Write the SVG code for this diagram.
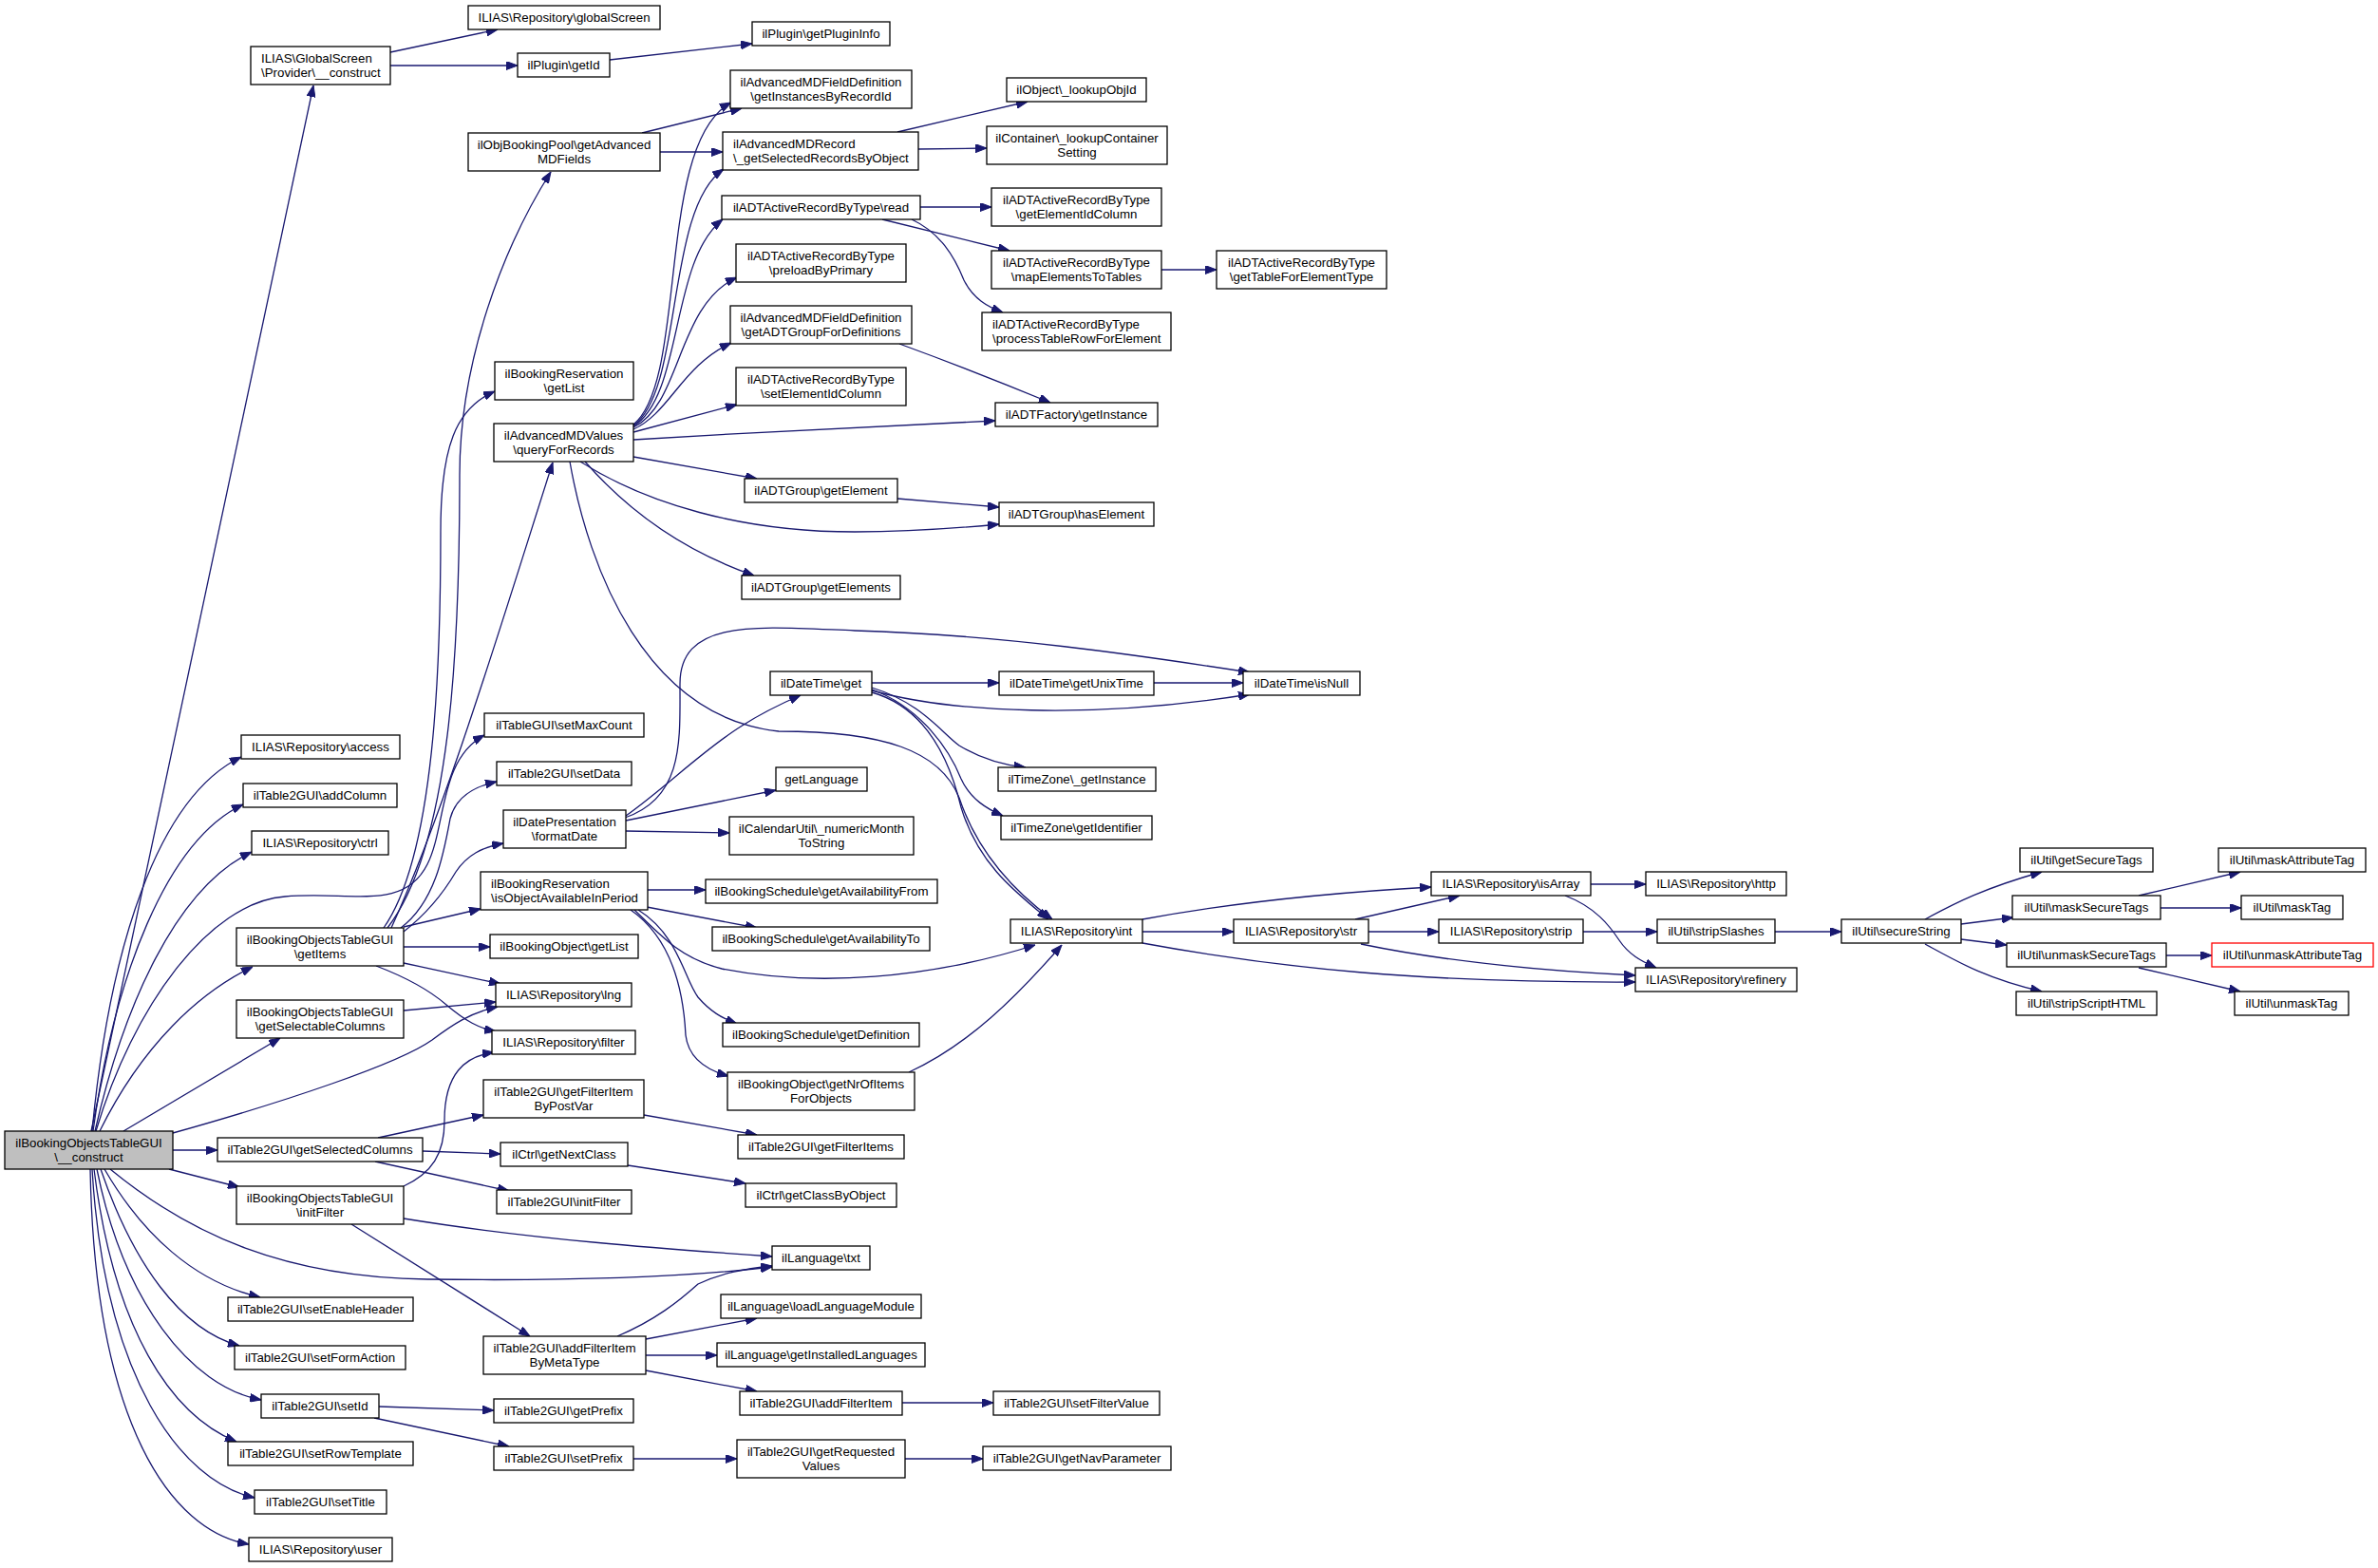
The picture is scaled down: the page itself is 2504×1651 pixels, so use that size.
<svg xmlns="http://www.w3.org/2000/svg" width="2504" height="1651" viewBox="0 0 2504 1651">
<defs>
<style>
.n rect{fill:#ffffff;stroke:#000000;stroke-width:1.3}
.root rect{fill:#bfbfbf}
.red rect{stroke:#ff0000}
text{font-family:"Liberation Sans",Arial,Helvetica,sans-serif;font-size:13.3px;fill:#000000}
.c{text-anchor:middle}
.l{text-anchor:start}
#edges path{fill:none;stroke:#191970;stroke-width:1.3;marker-end:url(#ah)}
</style>
<marker id="ah" viewBox="0 0 12 9" refX="12" refY="4.5" markerWidth="12" markerHeight="9" markerUnits="userSpaceOnUse" orient="auto"><path d="M0,0 L12,4.5 L0,9 z" fill="#191970" stroke="#191970" stroke-width="1"/></marker>
</defs>
<rect x="0" y="0" width="2504" height="1651" fill="#ffffff"/>
<g id="edges">
<path d="M96,1191 L330,90"/>
<path d="M97,1191 C115,1000 165,840 254,797"/>
<path d="M98,1191 C120,1030 175,885 256,847"/>
<path d="M100,1191 C130,1060 185,935 265,897"/>
<path d="M101,1191 C140,1060 220,950 300,944 C370,938 425,960 450,910 C470,870 462,800 510,774"/>
<path d="M105,1191 C150,1100 210,1045 266,1018"/>
<path d="M130,1191 L295,1093"/>
<path d="M182,1193 C300,1160 420,1120 455,1095 C475,1080 495,1066 524,1060"/>
<path d="M182,1211 L229,1211"/>
<path d="M178,1231 L252,1250"/>
<path d="M116,1231 C200,1300 300,1345 450,1347 C600,1349 720,1345 813,1334"/>
<path d="M110,1231 C150,1300 205,1350 274,1366"/>
<path d="M106,1231 C140,1330 190,1400 252,1417"/>
<path d="M102,1231 C130,1370 200,1460 275,1474"/>
<path d="M99,1231 C120,1400 180,1490 249,1518"/>
<path d="M97,1231 C110,1450 190,1560 268,1577"/>
<path d="M95,1231 C100,1500 180,1612 262,1626"/>
<path d="M411,55 L524,31"/>
<path d="M411,69 L545,69"/>
<path d="M642,63 L792,46"/>
<path d="M408,977 C475,890 484,680 484,500 C484,380 530,260 580,181"/>
<path d="M404,977 C458,900 464,700 464,560 C464,470 480,430 521,412"/>
<path d="M412,977 C470,850 530,650 582,487"/>
<path d="M422,977 C458,950 467,900 474,862 C480,838 500,828 523,823"/>
<path d="M425,981 C452,960 470,935 480,918 C492,900 508,892 530,888"/>
<path d="M425,976 L506,957"/>
<path d="M425,997 L516,997"/>
<path d="M425,1014 L527,1036"/>
<path d="M396,1017 C430,1030 455,1045 470,1058 C490,1075 505,1083 522,1086"/>
<path d="M425,1064 L522,1055"/>
<path d="M398,1198 L509,1174"/>
<path d="M445,1212 L527,1215"/>
<path d="M395,1223 L536,1254"/>
<path d="M425,1249 C455,1235 468,1215 468,1180 C468,1130 490,1112 520,1108"/>
<path d="M425,1283 C560,1305 700,1315 813,1323"/>
<path d="M370,1289 L558,1407"/>
<path d="M650,1407 C690,1390 715,1370 735,1352 C760,1340 785,1336 813,1333"/>
<path d="M680,1410 L797,1388"/>
<path d="M680,1427 L755,1427"/>
<path d="M680,1443 L797,1465"/>
<path d="M950,1477 L1046,1477"/>
<path d="M399,1481 L520,1485"/>
<path d="M394,1493 L536,1523"/>
<path d="M667,1536 L776,1536"/>
<path d="M953,1536 L1035,1536"/>
<path d="M678,1174 L797,1195"/>
<path d="M661,1227 L785,1246"/>
<path d="M676,140 L781,114"/>
<path d="M695,160 L761,160"/>
<path d="M667,447 C725,400 690,150 770,108"/>
<path d="M667,448 C720,410 700,220 762,178"/>
<path d="M667,449 C720,415 705,275 761,231"/>
<path d="M667,450 C718,425 712,322 776,292"/>
<path d="M667,452 C705,435 718,385 770,361"/>
<path d="M667,455 L776,426"/>
<path d="M667,463 C800,455 950,447 1048,443"/>
<path d="M667,481 L797,504"/>
<path d="M611,486 C680,530 780,560 900,560 C960,560 1010,556 1052,552"/>
<path d="M616,486 C650,525 705,575 794,606"/>
<path d="M600,486 C620,600 680,755 820,770 C930,770 990,790 1010,840 C1030,900 1070,940 1108,968"/>
<path d="M945,139 L1082,107"/>
<path d="M967,157 L1039,156"/>
<path d="M969,218 L1044,218"/>
<path d="M929,231 L1063,264"/>
<path d="M960,231 C990,245 1005,270 1015,295 C1025,315 1040,323 1056,329"/>
<path d="M1223,284 L1281,284"/>
<path d="M947,362 C1010,385 1060,405 1106,424"/>
<path d="M945,525 L1052,534"/>
<path d="M659,859 C700,830 740,790 780,765 C800,752 820,742 843,732"/>
<path d="M658,861 C720,840 716,780 716,720 C716,650 800,660 900,664 C1050,668 1200,690 1316,708"/>
<path d="M659,864 L817,832"/>
<path d="M659,875 L768,877"/>
<path d="M918,719 L1052,719"/>
<path d="M918,727 C1000,750 1150,758 1316,731"/>
<path d="M918,724 C970,740 990,770 1010,785 C1035,800 1060,806 1080,808"/>
<path d="M918,726 C970,745 1000,790 1012,820 C1022,842 1040,852 1056,859"/>
<path d="M918,729 C975,745 1000,800 1012,850 C1030,910 1070,940 1104,968"/>
<path d="M1215,719 L1309,719"/>
<path d="M682,937 L743,937"/>
<path d="M681,955 L797,977"/>
<path d="M668,958 C700,990 720,1010 760,1020 C860,1040 980,1030 1090,995"/>
<path d="M672,958 C715,985 720,1030 735,1050 C748,1065 760,1072 776,1078"/>
<path d="M664,958 C710,990 720,1050 722,1090 C725,1115 745,1127 767,1133"/>
<path d="M957,1129 C1020,1100 1070,1050 1118,995"/>
<path d="M1203,968 C1300,950 1400,940 1507,934"/>
<path d="M1203,981 L1299,981"/>
<path d="M1203,993 C1350,1020 1500,1035 1722,1034"/>
<path d="M1427,968 L1537,943"/>
<path d="M1441,981 L1515,981"/>
<path d="M1433,994 C1520,1012 1620,1022 1722,1027"/>
<path d="M1675,931 L1733,931"/>
<path d="M1648,943 C1680,955 1695,975 1705,990 C1715,1005 1728,1012 1744,1019"/>
<path d="M1667,981 L1745,981"/>
<path d="M1869,981 L1939,981"/>
<path d="M2027,968 C2060,950 2090,935 2150,918"/>
<path d="M2065,973 L2120,966"/>
<path d="M2065,989 L2113,995"/>
<path d="M2027,994 C2060,1012 2090,1030 2150,1044"/>
<path d="M2252,943 L2359,918"/>
<path d="M2275,956 L2360,956"/>
<path d="M2281,1006 L2329,1006"/>
<path d="M2252,1019 L2359,1044"/>
</g>
<g id="nodes">
<g id="node-root" class="n root"><rect x="5" y="1191" width="177" height="40"/><text class="c" x="93.5" y="1207.5">ilBookingObjectsTableGUI</text><text class="c" x="93.5" y="1222.5">\__construct</text></g>
<g id="node-provider" class="n"><rect x="264" y="49" width="147" height="40"/><text class="l" x="275" y="65.5">ILIAS\GlobalScreen</text><text class="l" x="275" y="80.5">\Provider\__construct</text></g>
<g id="node-access" class="n"><rect x="254" y="774" width="167" height="25"/><text class="c" x="337.5" y="791">ILIAS\Repository\access</text></g>
<g id="node-addColumn" class="n"><rect x="256" y="825" width="162" height="25"/><text class="c" x="337" y="842">ilTable2GUI\addColumn</text></g>
<g id="node-ctrl" class="n"><rect x="265" y="875" width="144" height="25"/><text class="c" x="337" y="892">ILIAS\Repository\ctrl</text></g>
<g id="node-getItems" class="n"><rect x="249" y="977" width="176" height="40"/><text class="c" x="337" y="993.5">ilBookingObjectsTableGUI</text><text class="c" x="337" y="1008.5">\getItems</text></g>
<g id="node-getSelectableColumns" class="n"><rect x="249" y="1053" width="176" height="40"/><text class="c" x="337" y="1069.5">ilBookingObjectsTableGUI</text><text class="c" x="337" y="1084.5">\getSelectableColumns</text></g>
<g id="node-getSelectedColumns" class="n"><rect x="229" y="1198" width="216" height="25"/><text class="c" x="337" y="1215">ilTable2GUI\getSelectedColumns</text></g>
<g id="node-initFilterBooking" class="n"><rect x="249" y="1249" width="176" height="40"/><text class="c" x="337" y="1265.5">ilBookingObjectsTableGUI</text><text class="c" x="337" y="1280.5">\initFilter</text></g>
<g id="node-setEnableHeader" class="n"><rect x="240" y="1366" width="195" height="25"/><text class="c" x="337.5" y="1383">ilTable2GUI\setEnableHeader</text></g>
<g id="node-setFormAction" class="n"><rect x="247" y="1417" width="180" height="25"/><text class="c" x="337" y="1434">ilTable2GUI\setFormAction</text></g>
<g id="node-setId" class="n"><rect x="275" y="1468" width="124" height="25"/><text class="c" x="337" y="1485">ilTable2GUI\setId</text></g>
<g id="node-setRowTemplate" class="n"><rect x="240" y="1518" width="195" height="25"/><text class="c" x="337.5" y="1535">ilTable2GUI\setRowTemplate</text></g>
<g id="node-setTitle" class="n"><rect x="268" y="1569" width="139" height="25"/><text class="c" x="337.5" y="1586">ilTable2GUI\setTitle</text></g>
<g id="node-user" class="n"><rect x="262" y="1619" width="151" height="25"/><text class="c" x="337.5" y="1636">ILIAS\Repository\user</text></g>
<g id="node-globalScreen" class="n"><rect x="493" y="6" width="202" height="25"/><text class="c" x="594" y="23">ILIAS\Repository\globalScreen</text></g>
<g id="node-getId" class="n"><rect x="545" y="56" width="97" height="25"/><text class="c" x="593.5" y="73">ilPlugin\getId</text></g>
<g id="node-getAdvancedMDFields" class="n"><rect x="493" y="140" width="202" height="40"/><text class="c" x="594" y="156.5">ilObjBookingPool\getAdvanced</text><text class="c" x="594" y="171.5">MDFields</text></g>
<g id="node-getListRes" class="n"><rect x="521" y="381" width="146" height="40"/><text class="c" x="594" y="397.5">ilBookingReservation</text><text class="c" x="594" y="412.5">\getList</text></g>
<g id="node-queryForRecords" class="n"><rect x="520" y="446" width="147" height="40"/><text class="c" x="593.5" y="462.5">ilAdvancedMDValues</text><text class="c" x="593.5" y="477.5">\queryForRecords</text></g>
<g id="node-setMaxCount" class="n"><rect x="510" y="751" width="168" height="25"/><text class="c" x="594" y="768">ilTableGUI\setMaxCount</text></g>
<g id="node-setData" class="n"><rect x="523" y="802" width="142" height="25"/><text class="c" x="594" y="819">ilTable2GUI\setData</text></g>
<g id="node-formatDate" class="n"><rect x="530" y="853" width="129" height="40"/><text class="c" x="594.5" y="869.5">ilDatePresentation</text><text class="c" x="594.5" y="884.5">\formatDate</text></g>
<g id="node-isObjectAvailableInPeriod" class="n"><rect x="506" y="918" width="176" height="40"/><text class="l" x="517" y="934.5">ilBookingReservation</text><text class="l" x="517" y="949.5">\isObjectAvailableInPeriod</text></g>
<g id="node-getListObj" class="n"><rect x="516" y="984" width="156" height="25"/><text class="c" x="594" y="1001">ilBookingObject\getList</text></g>
<g id="node-lng" class="n"><rect x="522" y="1035" width="143" height="25"/><text class="c" x="593.5" y="1052">ILIAS\Repository\lng</text></g>
<g id="node-filter" class="n"><rect x="518" y="1085" width="151" height="25"/><text class="c" x="593.5" y="1102">ILIAS\Repository\filter</text></g>
<g id="node-getFilterItemByPostVar" class="n"><rect x="509" y="1137" width="169" height="40"/><text class="c" x="593.5" y="1153.5">ilTable2GUI\getFilterItem</text><text class="c" x="593.5" y="1168.5">ByPostVar</text></g>
<g id="node-getNextClass" class="n"><rect x="527" y="1203" width="134" height="25"/><text class="c" x="594" y="1220">ilCtrl\getNextClass</text></g>
<g id="node-initFilterTable2" class="n"><rect x="523" y="1253" width="142" height="25"/><text class="c" x="594" y="1270">ilTable2GUI\initFilter</text></g>
<g id="node-addFilterItemByMetaType" class="n"><rect x="509" y="1407" width="171" height="40"/><text class="c" x="594.5" y="1423.5">ilTable2GUI\addFilterItem</text><text class="c" x="594.5" y="1438.5">ByMetaType</text></g>
<g id="node-getPrefix" class="n"><rect x="520" y="1473" width="147" height="25"/><text class="c" x="593.5" y="1490">ilTable2GUI\getPrefix</text></g>
<g id="node-setPrefix" class="n"><rect x="520" y="1523" width="147" height="25"/><text class="c" x="593.5" y="1540">ilTable2GUI\setPrefix</text></g>
<g id="node-getPluginInfo" class="n"><rect x="792" y="23" width="145" height="25"/><text class="c" x="864.5" y="40">ilPlugin\getPluginInfo</text></g>
<g id="node-getInstancesByRecordId" class="n"><rect x="769" y="74" width="191" height="40"/><text class="c" x="864.5" y="90.5">ilAdvancedMDFieldDefinition</text><text class="c" x="864.5" y="105.5">\getInstancesByRecordId</text></g>
<g id="node-getSelectedRecordsByObject" class="n"><rect x="761" y="139" width="206" height="40"/><text class="l" x="772" y="155.5">ilAdvancedMDRecord</text><text class="l" x="772" y="170.5">\_getSelectedRecordsByObject</text></g>
<g id="node-read" class="n"><rect x="760" y="206" width="209" height="25"/><text class="c" x="864.5" y="223">ilADTActiveRecordByType\read</text></g>
<g id="node-preloadByPrimary" class="n"><rect x="775" y="257" width="179" height="40"/><text class="c" x="864.5" y="273.5">ilADTActiveRecordByType</text><text class="c" x="864.5" y="288.5">\preloadByPrimary</text></g>
<g id="node-getADTGroupForDefinitions" class="n"><rect x="769" y="322" width="191" height="40"/><text class="c" x="864.5" y="338.5">ilAdvancedMDFieldDefinition</text><text class="c" x="864.5" y="353.5">\getADTGroupForDefinitions</text></g>
<g id="node-setElementIdColumn" class="n"><rect x="775" y="387" width="179" height="40"/><text class="c" x="864.5" y="403.5">ilADTActiveRecordByType</text><text class="c" x="864.5" y="418.5">\setElementIdColumn</text></g>
<g id="node-getElement" class="n"><rect x="784" y="504" width="161" height="25"/><text class="c" x="864.5" y="521">ilADTGroup\getElement</text></g>
<g id="node-getElements" class="n"><rect x="781" y="606" width="167" height="25"/><text class="c" x="864.5" y="623">ilADTGroup\getElements</text></g>
<g id="node-dateTimeGet" class="n"><rect x="811" y="707" width="107" height="25"/><text class="c" x="864.5" y="724">ilDateTime\get</text></g>
<g id="node-getLanguage" class="n"><rect x="817" y="808" width="96" height="25"/><text class="c" x="865" y="825">getLanguage</text></g>
<g id="node-numericMonthToString" class="n"><rect x="768" y="860" width="194" height="40"/><text class="c" x="865" y="876.5">ilCalendarUtil\_numericMonth</text><text class="c" x="865" y="891.5">ToString</text></g>
<g id="node-getAvailabilityFrom" class="n"><rect x="743" y="926" width="244" height="25"/><text class="c" x="865" y="943">ilBookingSchedule\getAvailabilityFrom</text></g>
<g id="node-getAvailabilityTo" class="n"><rect x="750" y="976" width="229" height="25"/><text class="c" x="864.5" y="993">ilBookingSchedule\getAvailabilityTo</text></g>
<g id="node-getDefinition" class="n"><rect x="761" y="1077" width="207" height="25"/><text class="c" x="864.5" y="1094">ilBookingSchedule\getDefinition</text></g>
<g id="node-getNrOfItemsForObjects" class="n"><rect x="766" y="1129" width="197" height="40"/><text class="c" x="864.5" y="1145.5">ilBookingObject\getNrOfItems</text><text class="c" x="864.5" y="1160.5">ForObjects</text></g>
<g id="node-getFilterItems" class="n"><rect x="777" y="1195" width="175" height="25"/><text class="c" x="864.5" y="1212">ilTable2GUI\getFilterItems</text></g>
<g id="node-getClassByObject" class="n"><rect x="785" y="1246" width="159" height="25"/><text class="c" x="864.5" y="1263">ilCtrl\getClassByObject</text></g>
<g id="node-txt" class="n"><rect x="813" y="1312" width="103" height="25"/><text class="c" x="864.5" y="1329">ilLanguage\txt</text></g>
<g id="node-loadLanguageModule" class="n"><rect x="759" y="1363" width="211" height="25"/><text class="c" x="864.5" y="1380">ilLanguage\loadLanguageModule</text></g>
<g id="node-getInstalledLanguages" class="n"><rect x="755" y="1414" width="219" height="25"/><text class="c" x="864.5" y="1431">ilLanguage\getInstalledLanguages</text></g>
<g id="node-addFilterItem" class="n"><rect x="779" y="1465" width="171" height="25"/><text class="c" x="864.5" y="1482">ilTable2GUI\addFilterItem</text></g>
<g id="node-getRequestedValues" class="n"><rect x="776" y="1516" width="177" height="40"/><text class="c" x="864.5" y="1532.5">ilTable2GUI\getRequested</text><text class="c" x="864.5" y="1547.5">Values</text></g>
<g id="node-lookupObjId" class="n"><rect x="1060" y="82" width="147" height="25"/><text class="c" x="1133.5" y="99">ilObject\_lookupObjId</text></g>
<g id="node-lookupContainerSetting" class="n"><rect x="1039" y="133" width="190" height="40"/><text class="c" x="1134" y="149.5">ilContainer\_lookupContainer</text><text class="c" x="1134" y="164.5">Setting</text></g>
<g id="node-getElementIdColumn" class="n"><rect x="1044" y="198" width="179" height="40"/><text class="c" x="1133.5" y="214.5">ilADTActiveRecordByType</text><text class="c" x="1133.5" y="229.5">\getElementIdColumn</text></g>
<g id="node-mapElementsToTables" class="n"><rect x="1044" y="264" width="179" height="40"/><text class="c" x="1133.5" y="280.5">ilADTActiveRecordByType</text><text class="c" x="1133.5" y="295.5">\mapElementsToTables</text></g>
<g id="node-processTableRowForElement" class="n"><rect x="1034" y="329" width="199" height="40"/><text class="l" x="1045" y="345.5">ilADTActiveRecordByType</text><text class="l" x="1045" y="360.5">\processTableRowForElement</text></g>
<g id="node-adtFactoryGetInstance" class="n"><rect x="1048" y="424" width="171" height="25"/><text class="c" x="1133.5" y="441">ilADTFactory\getInstance</text></g>
<g id="node-hasElement" class="n"><rect x="1052" y="529" width="163" height="25"/><text class="c" x="1133.5" y="546">ilADTGroup\hasElement</text></g>
<g id="node-getUnixTime" class="n"><rect x="1052" y="707" width="163" height="25"/><text class="c" x="1133.5" y="724">ilDateTime\getUnixTime</text></g>
<g id="node-tzGetInstance" class="n"><rect x="1051" y="808" width="166" height="25"/><text class="c" x="1134" y="825">ilTimeZone\_getInstance</text></g>
<g id="node-getIdentifier" class="n"><rect x="1054" y="859" width="159" height="25"/><text class="c" x="1133.5" y="876">ilTimeZone\getIdentifier</text></g>
<g id="node-int" class="n"><rect x="1064" y="968" width="139" height="25"/><text class="c" x="1133.5" y="985">ILIAS\Repository\int</text></g>
<g id="node-setFilterValue" class="n"><rect x="1046" y="1465" width="175" height="25"/><text class="c" x="1133.5" y="1482">ilTable2GUI\setFilterValue</text></g>
<g id="node-getNavParameter" class="n"><rect x="1035" y="1523" width="198" height="25"/><text class="c" x="1134" y="1540">ilTable2GUI\getNavParameter</text></g>
<g id="node-getTableForElementType" class="n"><rect x="1281" y="264" width="179" height="40"/><text class="c" x="1370.5" y="280.5">ilADTActiveRecordByType</text><text class="c" x="1370.5" y="295.5">\getTableForElementType</text></g>
<g id="node-isNull" class="n"><rect x="1309" y="707" width="123" height="25"/><text class="c" x="1370.5" y="724">ilDateTime\isNull</text></g>
<g id="node-str" class="n"><rect x="1299" y="968" width="142" height="25"/><text class="c" x="1370" y="985">ILIAS\Repository\str</text></g>
<g id="node-isArray" class="n"><rect x="1507" y="918" width="168" height="25"/><text class="c" x="1591" y="935">ILIAS\Repository\isArray</text></g>
<g id="node-strip" class="n"><rect x="1515" y="968" width="152" height="25"/><text class="c" x="1591" y="985">ILIAS\Repository\strip</text></g>
<g id="node-http" class="n"><rect x="1733" y="918" width="148" height="25"/><text class="c" x="1807" y="935">ILIAS\Repository\http</text></g>
<g id="node-stripSlashes" class="n"><rect x="1745" y="968" width="124" height="25"/><text class="c" x="1807" y="985">ilUtil\stripSlashes</text></g>
<g id="node-refinery" class="n"><rect x="1722" y="1019" width="170" height="25"/><text class="c" x="1807" y="1036">ILIAS\Repository\refinery</text></g>
<g id="node-secureString" class="n"><rect x="1939" y="968" width="126" height="25"/><text class="c" x="2002" y="985">ilUtil\secureString</text></g>
<g id="node-getSecureTags" class="n"><rect x="2127" y="893" width="140" height="25"/><text class="c" x="2197" y="910">ilUtil\getSecureTags</text></g>
<g id="node-maskSecureTags" class="n"><rect x="2119" y="943" width="156" height="25"/><text class="c" x="2197" y="960">ilUtil\maskSecureTags</text></g>
<g id="node-unmaskSecureTags" class="n"><rect x="2113" y="993" width="168" height="25"/><text class="c" x="2197" y="1010">ilUtil\unmaskSecureTags</text></g>
<g id="node-stripScriptHTML" class="n"><rect x="2123" y="1044" width="148" height="25"/><text class="c" x="2197" y="1061">ilUtil\stripScriptHTML</text></g>
<g id="node-maskAttributeTag" class="n"><rect x="2336" y="893" width="155" height="25"/><text class="c" x="2413.5" y="910">ilUtil\maskAttributeTag</text></g>
<g id="node-maskTag" class="n"><rect x="2360" y="943" width="107" height="25"/><text class="c" x="2413.5" y="960">ilUtil\maskTag</text></g>
<g id="node-unmaskAttributeTag" class="n red"><rect x="2329" y="993" width="170" height="25"/><text class="c" x="2414" y="1010">ilUtil\unmaskAttributeTag</text></g>
<g id="node-unmaskTag" class="n"><rect x="2353" y="1044" width="120" height="25"/><text class="c" x="2413" y="1061">ilUtil\unmaskTag</text></g>
</g>
</svg>
